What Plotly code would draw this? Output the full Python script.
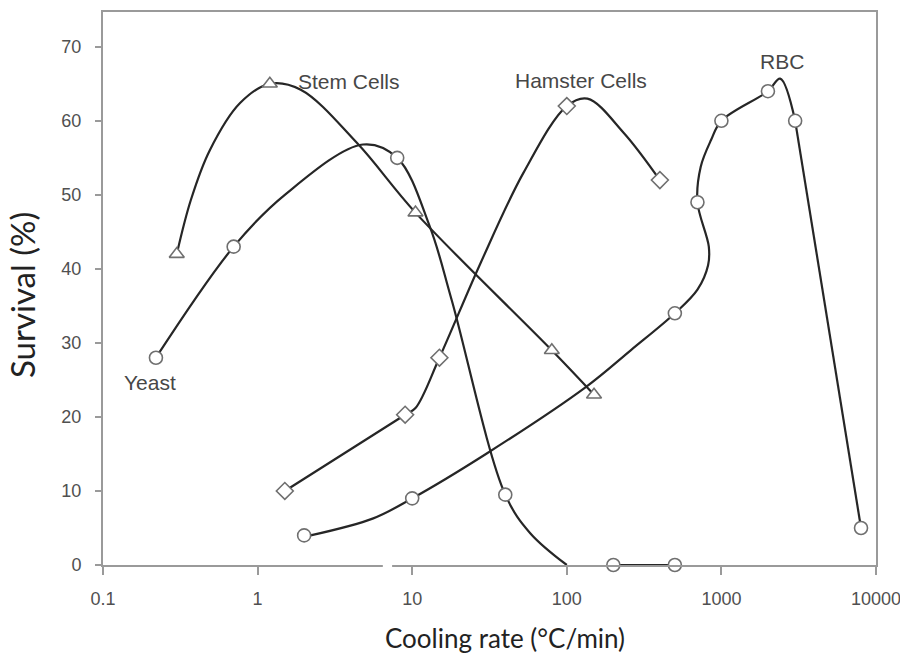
import math
import plotly.graph_objects as go

# ---- data ----
# Yeast (circles)
yeast_x = [0.22, 0.7, 8, 40, 200, 500]
yeast_y = [28, 43, 55, 9.5, 0, 0]
yeast_curve_x = [0.22, 0.7, 1.5, 4.8, 8, 13, 18, 40, 58, 100]
yeast_curve_y = [28, 43, 50, 56.8, 55, 45.7, 35.8, 9.5, 4.3, 0]
yeast_tail_x = [200, 500]
yeast_tail_y = [0, 0]

# Stem cells (triangles)
stem_x = [0.3, 1.2, 10.5, 80, 150]
stem_y = [42, 65, 47.6, 29, 23]
stem_curve_x = [0.3, 0.37, 0.49, 0.77, 1.2, 1.9, 4.4, 10.5, 80, 150]
stem_curve_y = [42, 49.3, 56, 62.4, 65, 64.2, 57, 47.6, 29, 23]

# Hamster cells (diamonds)
hamster_x = [1.5, 9, 15, 100, 400]
hamster_y = [10, 20.3, 28, 62, 52]
hamster_curve_x = [1.5, 9, 10.5, 15, 27.7, 52.5, 100, 136, 233, 400]
hamster_curve_y = [10, 20.3, 21.2, 28, 40.8, 53, 62, 63, 58.4, 52]

# RBC (circles)
rbc_x = [2, 10, 500, 700, 1000, 2000, 3000, 8000]
rbc_y = [4, 9, 34, 49, 60, 64, 60, 5]
rbc_curve_x = [2.2, 5.6, 10, 30, 132, 259, 500, 700, 820, 829, 700, 735, 857, 1000, 2000, 2400, 3000]
rbc_curve_y = [4, 6.3, 9, 15, 24, 29, 34, 37.2, 40.5, 43, 49, 53.8, 57.4, 60, 64, 65.7, 60]
rbc_tail_x = [3000, 8000]
rbc_tail_y = [60, 5]

x_ticks = [0.1, 1, 10, 100, 1000, 10000]
x_tick_labels = ["0.1", "1", "10", "100", "1000", "10000"]
y_ticks = [0, 10, 20, 30, 40, 50, 60, 70]

x_title = "Cooling rate (°C/min)"
y_title = "Survival (%)"

LINE = "#262626"
MK_LINE = "#6f6f6f"
AX = "#9a9a9a"
TICKFONT = dict(family="Liberation Sans, Arial", size=18, color="#505050")

fig = go.Figure()

def curve(x, y, shape="spline"):
    fig.add_trace(go.Scatter(x=x, y=y, mode="lines",
                             line=dict(color=LINE, width=2.2, shape=shape, smoothing=1.0),
                             hoverinfo="skip", showlegend=False))

def marks(x, y, symbol, size):
    fig.add_trace(go.Scatter(x=x, y=y, mode="markers",
                             marker=dict(symbol=symbol, size=size, color="white",
                                         line=dict(color=MK_LINE, width=1.6)),
                             cliponaxis=False, showlegend=False))

curve(yeast_curve_x, yeast_curve_y)
curve(yeast_tail_x, yeast_tail_y, "linear")
curve(stem_curve_x, stem_curve_y)
curve(hamster_curve_x, hamster_curve_y)
curve(rbc_curve_x, rbc_curve_y)
curve(rbc_tail_x, rbc_tail_y, "linear")

marks(yeast_x, yeast_y, "circle", 13)
marks(stem_x, stem_y, "triangle-up", 13)
marks(hamster_x, hamster_y, "diamond", 13)
marks(rbc_x, rbc_y, "circle", 13)

# series labels (positions in log10 x units)
ann = [
    ("Stem Cells", math.log10(3.9), 65.3),
    ("Hamster Cells", math.log10(123), 65.5),
    ("RBC", math.log10(2460), 68.0),
    ("Yeast", math.log10(0.201), 24.7),
]
for t, ax_, ay_ in ann:
    fig.add_annotation(x=ax_, y=ay_, xref="x", yref="y", text=t, showarrow=False,
                       font=dict(family="Liberation Sans, Arial", size=21, color="#474747"))

# axis titles
fig.add_annotation(x=0.520, y=-0.132, xref="paper", yref="paper", text=x_title,
                   showarrow=False, xanchor="center", yanchor="middle",
                   font=dict(family="Lato", size=26, color="#222"))
fig.add_annotation(x=-0.105, y=0.488, xref="paper", yref="paper", text=y_title,
                   showarrow=False, xanchor="center", yanchor="middle", textangle=-90,
                   font=dict(family="Lato", size=33, color="#222"))

# break in x axis line
fig.add_shape(type="rect", xref="paper", yref="paper", x0=0.362, x1=0.374,
              y0=-0.008, y1=0.008, fillcolor="white", line=dict(width=0), layer="above")

fig.update_layout(
    width=900, height=659,
    margin=dict(l=103, r=24, t=12, b=94),
    paper_bgcolor="white", plot_bgcolor="white",
    showlegend=False,
    xaxis=dict(type="log", range=[-1, 4], tickvals=x_ticks, ticktext=x_tick_labels,
               automargin=False, ticklabeloverflow="allow",
               showline=True, mirror=True, linecolor=AX, linewidth=2,
               ticks="outside", ticklen=8, tickwidth=1.5, tickcolor=AX,
               ticklabelstandoff=8,
               showgrid=False, zeroline=False,
               tickfont=TICKFONT),
    yaxis=dict(range=[0, 74.7], tickvals=y_ticks, automargin=False,
               ticklabeloverflow="allow",
               showline=True, mirror=True, linecolor=AX, linewidth=2,
               ticks="outside", ticklen=6, tickwidth=1.5, tickcolor=AX,
               ticklabelstandoff=10,
               showgrid=False, zeroline=False,
               tickfont=TICKFONT),
)

fig.write_html("out.html", config={"displayModeBar": False},
               post_script="document.body.style.margin='0px';document.body.style.overflow='hidden';")
